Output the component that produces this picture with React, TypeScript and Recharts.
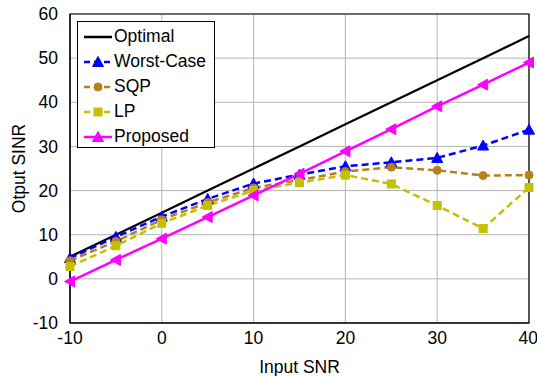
import { CartesianGrid, Line, LineChart, ReferenceArea, XAxis, YAxis } from "recharts";

const SNR = [-10, -5, 0, 5, 10, 15, 20, 25, 30, 35, 40];
const OPTIMAL = [5, 10, 15, 20, 25, 30, 35, 40, 45, 50, 55];
const WORST_CASE = [4.7, 9.5, 14.1, 18.1, 21.6, 23.6, 25.5, 26.4, 27.4, 30.2, 33.8];
const SQP = [4.1, 8.5, 13.4, 17.3, 20.6, 22.4, 24.3, 25.3, 24.6, 23.4, 23.5];
const LP = [2.8, 7.5, 12.6, 16.6, 20.0, 21.8, 23.5, 21.5, 16.6, 11.4, 20.7];
const PROPOSED = [-0.6, 4.3, 9.1, 14.0, 18.9, 23.8, 28.9, 33.9, 39.1, 44.0, 49.0];

const X_TICKS = [-10, 0, 10, 20, 30, 40];
const Y_TICKS = [-10, 0, 10, 20, 30, 40, 50, 60];

const data = SNR.map((snr, i) => ({
  snr,
  optimal: OPTIMAL[i],
  worst: WORST_CASE[i],
  sqp: SQP[i],
  lp: LP[i],
  proposed: PROPOSED[i],
}));

type Marker = "none" | "up" | "left" | "circle" | "square";

interface Series {
  key: string;
  name: string;
  color: string;
  dashed: boolean;
  marker: Marker;
  legendMarker: Marker;
}

const SERIES: Series[] = [
  { key: "optimal", name: "Optimal", color: "#000000", dashed: false, marker: "none", legendMarker: "none" },
  { key: "worst", name: "Worst-Case", color: "#0000ff", dashed: true, marker: "up", legendMarker: "up" },
  { key: "sqp", name: "SQP", color: "#b8801a", dashed: true, marker: "circle", legendMarker: "circle" },
  { key: "lp", name: "LP", color: "#c4c000", dashed: true, marker: "square", legendMarker: "square" },
  { key: "proposed", name: "Proposed", color: "#ff00ff", dashed: false, marker: "left", legendMarker: "up" },
];

const FONT = "'Liberation Sans', Arial, Helvetica, sans-serif";
const FS = 17.5;

function markerShape(kind: Marker, cx: number, cy: number, color: string, key?: string) {
  switch (kind) {
    case "up":
      return <polygon key={key} points={`${cx},${cy - 5.5} ${cx - 5.5},${cy + 4.5} ${cx + 5.5},${cy + 4.5}`} fill={color} stroke={color} />;
    case "left":
      return <polygon key={key} points={`${cx - 5.5},${cy} ${cx + 4.5},${cy - 5.5} ${cx + 4.5},${cy + 5.5}`} fill={color} stroke={color} />;
    case "circle":
      return <circle key={key} cx={cx} cy={cy} r={4} fill={color} stroke={color} />;
    case "square":
      return <rect key={key} x={cx - 4} y={cy - 4} width={8} height={8} fill={color} stroke={color} />;
    default:
      return <g key={key} />;
  }
}

function LegendBox() {
  return (
    <div
      style={{
        position: "absolute", left: 77, top: 21, width: 136, height: 125,
        border: "1.5px solid #000", background: "#fff", fontFamily: FONT, fontSize: FS,
      }}
    >
      {SERIES.map((s, i) => (
        <div key={s.key} style={{ position: "absolute", left: 5, top: 2 + i * 25, height: 25, display: "flex", alignItems: "center" }}>
          <svg width={30} height={20}>
            <line x1={1} y1={10} x2={29} y2={10} stroke={s.color} strokeWidth={2.5} strokeDasharray={s.dashed ? "6 4" : undefined} />
            {markerShape(s.legendMarker, 15, 10, s.color)}
          </svg>
          <span style={{ marginLeft: 1, lineHeight: "25px" }}>{s.name}</span>
        </div>
      ))}
    </div>
  );
}

export default function App() {
  return (
    <div style={{ position: "absolute", left: 0, top: 0, width: 537, height: 376, background: "#fff" }}>
      <LineChart width={537} height={376} data={data} margin={{ top: 14, right: 8, bottom: 0, left: 0 }}>
        <CartesianGrid stroke="#b4b4b4" strokeWidth={1} />
        <XAxis
          dataKey="snr" type="number" domain={[-10, 40]} ticks={X_TICKS} height={53}
          axisLine={{ stroke: "#000" }} tickLine={false} tickSize={0} tickMargin={9}
          tick={{ fill: "#000", fontSize: FS, fontFamily: FONT }}
          label={{ value: "Input SNR", position: "insideBottom", offset: 3, fill: "#000", fontSize: FS, fontFamily: FONT }}
        />
        <YAxis
          type="number" domain={[-10, 60]} ticks={Y_TICKS} width={70}
          axisLine={{ stroke: "#000" }} tickLine={false} tickSize={0} tickMargin={12}
          tick={{ fill: "#000", fontSize: FS, fontFamily: FONT }}
          label={{ value: "Otput SINR", angle: -90, position: "insideLeft", offset: 19, fill: "#000", fontSize: FS, fontFamily: FONT, style: { textAnchor: "middle" } }}
        />
        {SERIES.map((s) => (
          <Line
            key={s.key}
            dataKey={s.key}
            name={s.name}
            stroke={s.color}
            strokeWidth={s.key === "optimal" ? 2.2 : 2.5}
            strokeDasharray={s.dashed ? "7 4" : undefined}
            dot={s.marker === "none" ? false : (p: any) => markerShape(s.marker, p.cx, p.cy, s.color, `${s.key}-${p.index}`)}
            activeDot={false}
            isAnimationActive={false}
          />
        ))}
        <ReferenceArea x1={-10} x2={40} y1={-10} y2={60} fill="none" fillOpacity={0} stroke="#000" strokeWidth={1.2} />
      </LineChart>
      <LegendBox />
    </div>
  );
}
